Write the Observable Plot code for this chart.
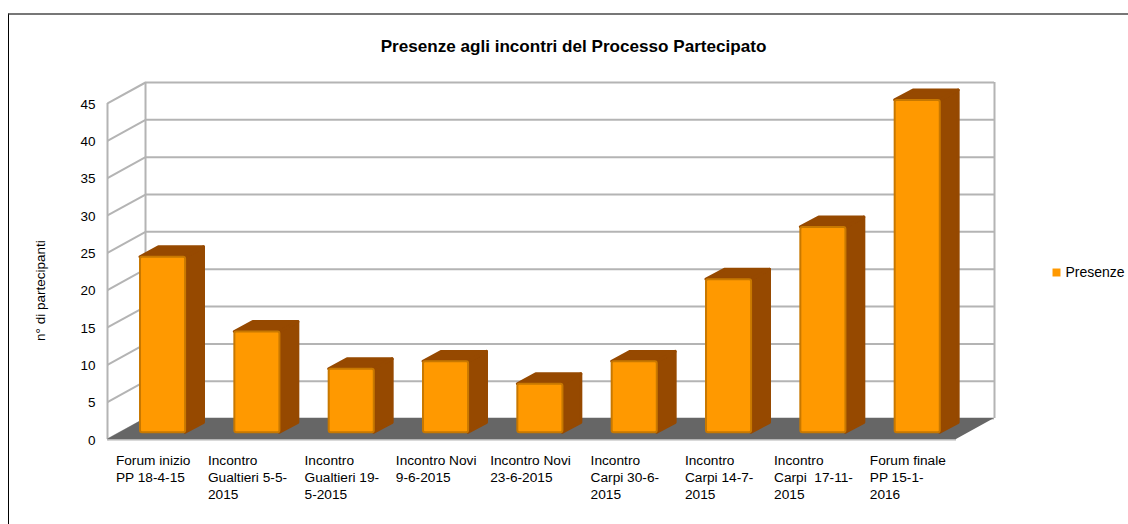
<!DOCTYPE html>
<html>
<head>
<meta charset="utf-8">
<script src="https://cdn.jsdelivr.net/npm/d3@7"></script>
<script src="https://cdn.jsdelivr.net/npm/@observablehq/plot@0.6"></script>
<style>
html,body{margin:0;padding:0;background:#fff;}
#frame{position:absolute;left:8px;top:13px;right:0;bottom:0;border-top:2px solid #777;border-left:1px solid #000;}
#chart{position:absolute;left:0;top:0;}
#chart svg{background:transparent;}
</style>
</head>
<body>
<div id="frame"></div>
<div id="chart"></div>
<script>
const categories = [
  "Forum inizio\nPP 18-4-15",
  "Incontro\nGualtieri 5-5-\n2015",
  "Incontro\nGualtieri 19-\n5-2015",
  "Incontro Novi\n9-6-2015",
  "Incontro Novi\n23-6-2015",
  "Incontro\nCarpi 30-6-\n2015",
  "Incontro\nCarpi 14-7-\n2015",
  "Incontro\nCarpi  17-11-\n2015",
  "Forum finale\nPP 15-1-\n2016"
];
const presenze = [24, 14, 9, 10, 7, 10, 21, 28, 45];
const yTicks = [0, 5, 10, 15, 20, 25, 30, 35, 40, 45];
const seriesName = "Presenze";
const chartTitle = "Presenze agli incontri del Processo Partecipato";
const yTitle = "n° di partecipanti";

// Oblique projection constants, in scale units
const depthX = 0.403, depthY = 2.8;        // chart box depth
const barInset = 0.35, barW = 0.478;       // bar position within its band
const barBase = 0.9, barTopLift = 0.4;     // front face lift above the front plane
const sideX = 0.195, sideY = 1.33;         // bar depth

const font = "Liberation Sans, Arial, sans-serif";
const labelSize = 13.7;
const tickSize = 13.5;
const gridColor = "#b4b4b4";
const orange = "#ff9900", orangeEdge = "#c87800", brown = "#964900", floor = "#666666";

const bars = presenze.map((v, i) => ({
  i, x1: i + barInset, x2: i + barInset + barW, y1: barBase, y2: v + barTopLift
}));
const sides = bars.flatMap(b => [
  {i: b.i, x: b.x2, y1: b.y1, y2: b.y2},
  {i: b.i, x: b.x2 + sideX, y1: b.y1 + sideY, y2: b.y2 + sideY}
]);
const tops = bars.flatMap(b => [
  {i: b.i, y: b.y2, x1: b.x1, x2: b.x2},
  {i: b.i, y: b.y2 + sideY, x1: b.x1 + sideX, x2: b.x2 + sideX}
]);
const n = categories.length;
const floorPts = [
  {y: 0, x1: 0, x2: n},
  {y: depthY, x1: depthX, x2: n + depthX}
];

const ctx = document.createElement("canvas").getContext("2d");
ctx.font = `${labelSize}px "Liberation Sans"`;
const blockWidth = s => Math.max(...s.split("\n").map(l => ctx.measureText(l).width));

const plot = Plot.plot({
  width: 1128, height: 524,
  marginLeft: 107, marginRight: 134, marginTop: 82, marginBottom: 85,
  style: {fontFamily: font, fontSize: labelSize + "px", color: "#000", background: "transparent"},
  x: {domain: [0, n + depthX], axis: null},
  y: {domain: [0, 45 + depthY]},
  marks: [
    // walls
    Plot.ruleY(yTicks, {y: d => d + depthY, x1: depthX, x2: n + depthX, stroke: gridColor, strokeWidth: 2}),
    Plot.link(yTicks, {x1: 0, x2: depthX, y1: d => d, y2: d => d + depthY, stroke: gridColor, strokeWidth: 2}),
    Plot.ruleX([0], {y1: 0, y2: 45, stroke: gridColor, strokeWidth: 2}),
    Plot.ruleX([depthX, n + depthX], {y1: depthY, y2: 45 + depthY, stroke: gridColor, strokeWidth: 2}),
    Plot.ruleY([0], {x1: 0, x2: n, stroke: gridColor, strokeWidth: 2}),
    // floor
    Plot.areaX(floorPts, {y: "y", x1: "x1", x2: "x2", fill: floor}),
    // bars
    Plot.areaY(sides, {x: "x", y1: "y1", y2: "y2", z: "i", fill: brown, stroke: brown, strokeWidth: 3, strokeLinejoin: "round"}),
    Plot.areaX(tops, {y: "y", x1: "x1", x2: "x2", z: "i", fill: brown, stroke: brown, strokeWidth: 3, strokeLinejoin: "round"}),
    Plot.rect(bars, {x1: "x1", x2: "x2", y1: "y1", y2: "y2", fill: orange, stroke: orangeEdge, strokeWidth: 2, rx: 2, ry: 2}),
    // axes
    Plot.axisY({
      ticks: yTicks, tickSize: 0, tickPadding: 12, fontSize: tickSize, stroke: "none", label: null, dy: 1
    }),
    Plot.text([yTitle], {
      frameAnchor: "left", dx: -66.5, dy: 80, rotate: -90, text: d => d,
      fontSize: tickSize, fill: "#000"
    }),
    ...categories.map((c, i) => Plot.text([c], {
      x: i + 0.5, y: 0, text: d => d, textAnchor: "start", lineAnchor: "top",
      dx: -blockWidth(c) / 2 - 1.5, dy: 13, lineHeight: 1.24, fontSize: labelSize, fill: "#000"
    })),
    // title
    Plot.text([chartTitle], {
      frameAnchor: "top-left", dx: 466, dy: -36, lineAnchor: "middle", textAnchor: "middle",
      text: d => d, fontSize: 17.1, fontWeight: "bold", fill: "#000"
    }),
    // legend
    Plot.dot([seriesName], {
      frameAnchor: "top-right", dx: 62, dy: 190, symbol: "square", r: 4.5, fill: orange
    }),
    Plot.text([seriesName], {
      frameAnchor: "top-right", dx: 71, dy: 190, textAnchor: "start", lineAnchor: "middle",
      text: d => d, fontSize: 14, fill: "#000"
    })
  ]
});
document.getElementById("chart").appendChild(plot);
</script>
</body>
</html>
